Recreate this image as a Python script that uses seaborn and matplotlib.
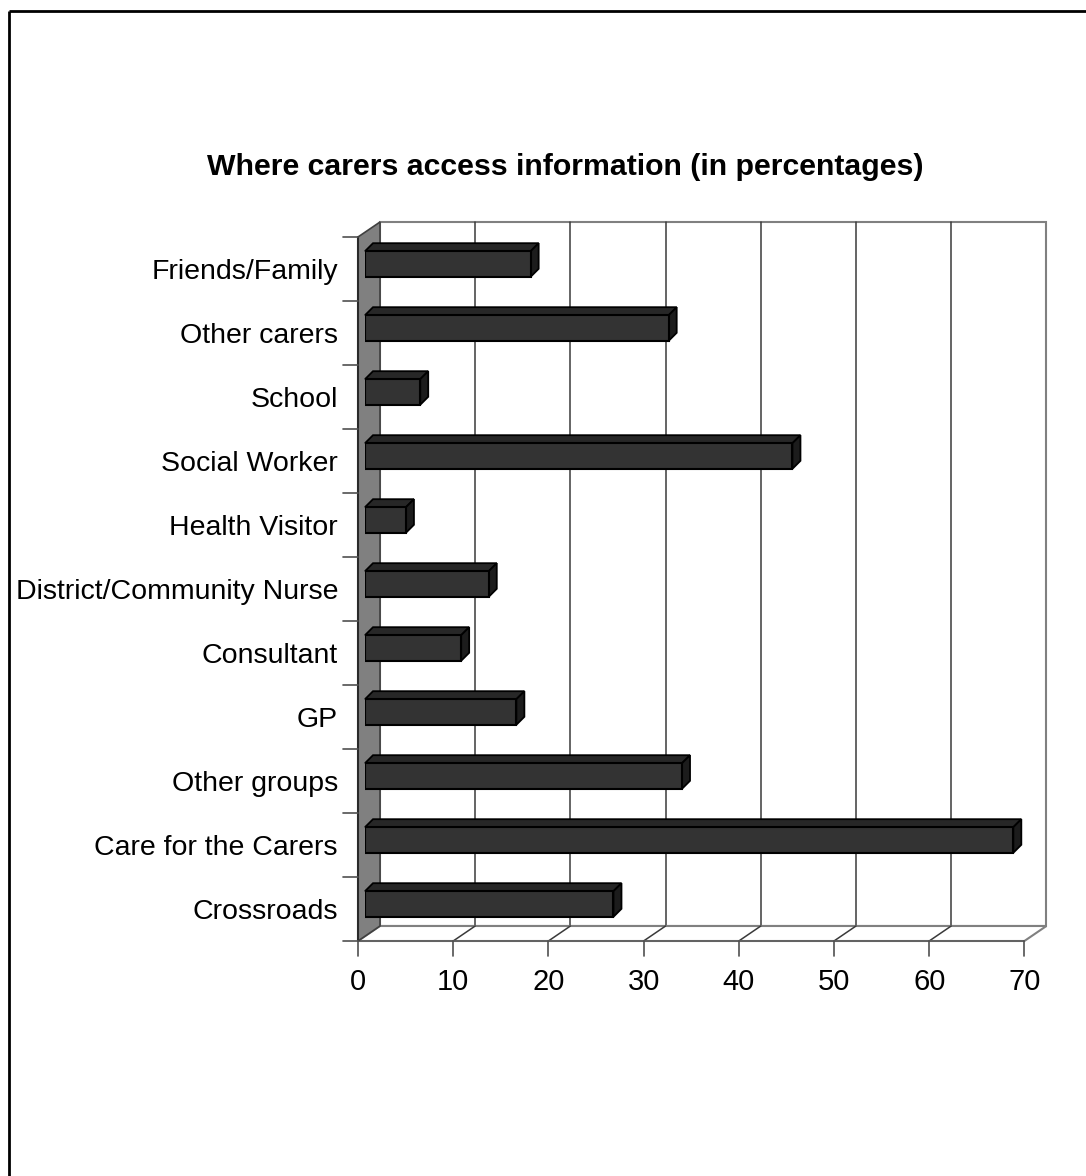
import numpy as np
import pandas as pd
import matplotlib
matplotlib.use("Agg")
import matplotlib.pyplot as plt
import seaborn as sns
from matplotlib.patches import Polygon

# ---------------- data ----------------
categories = ["Friends/Family", "Other carers", "School", "Social Worker",
              "Health Visitor", "District/Community Nurse", "Consultant", "GP",
              "Other groups", "Care for the Carers", "Crossroads"]
percentages = [17.4, 31.9, 5.8, 44.9, 4.3, 13.0, 10.1, 15.9, 33.3, 68.1, 26.1]
x_ticks = [0, 10, 20, 30, 40, 50, 60, 70]
title = "Where carers access information (in percentages)"

# ---------------- style ----------------
sns.set_theme(style="white")
plt.rcParams['font.family'] = ['Liberation Sans', 'DejaVu Sans']

W, H = 1086, 1176
fig = plt.figure(figsize=(W / 100, H / 100), dpi=100)
fig.patch.set_facecolor("white")

# background / decoration layer in pixel coordinates
bg = fig.add_axes([0, 0, 1, 1], zorder=0)
bg.set_xlim(0, W)
bg.set_ylim(H, 0)
bg.axis('off')

# axes = plane in which the bar fronts lie
plane_left, plane_right = 365, 365 + 70 * 9.52
plane_top, plane_bottom = 232, 936
ax = fig.add_axes([plane_left / W, 1 - plane_bottom / H,
                   (plane_right - plane_left) / W, (plane_bottom - plane_top) / H],
                  zorder=1)
ax.set_facecolor('none')

df = pd.DataFrame({"source": categories, "pct": percentages})
sns.barplot(data=df, x="pct", y="source", orient="h", color="#333333",
            saturation=1, width=0.4, edgecolor="black", linewidth=1.5, ax=ax)
ax.set_xlim(x_ticks[0], x_ticks[-1])
ax.set_ylim(len(categories) - 0.5, -0.5)
ax.axis('off')

n = len(categories)
y_top, y_bot = -0.5, n - 0.5
FRONT = (-7, 5)
BACK = (15, -10)
DEPTH = (8, -8)


def to_px(x, y, off=(0, 0)):
    d = ax.transData.transform((x, y))
    return (d[0] + off[0], H - d[1] + off[1])


def shift(p, off):
    return (p[0] + off[0], p[1] + off[1])


# back wall
bw = [to_px(0, y_top, BACK), to_px(70, y_top, BACK), to_px(70, y_bot, BACK), to_px(0, y_bot, BACK)]
bg.add_patch(Polygon(bw, closed=True, facecolor="white", edgecolor="#808080", lw=1.5, zorder=1))
for t in x_ticks[1:-1]:
    a = to_px(t, y_top, BACK)
    b = to_px(t, y_bot, BACK)
    bg.plot([a[0], b[0]], [a[1], b[1]], color="#3a3a3a", lw=1.1, zorder=2)

# floor
fl = [to_px(0, y_bot, FRONT), to_px(70, y_bot, FRONT), to_px(70, y_bot, BACK), to_px(0, y_bot, BACK)]
bg.add_patch(Polygon(fl, closed=True, facecolor="white", edgecolor="#808080", lw=1.5, zorder=2))
for t in x_ticks[1:-1]:
    a = to_px(t, y_bot, FRONT)
    b = to_px(t, y_bot, BACK)
    bg.plot([a[0], b[0]], [a[1], b[1]], color="#3a3a3a", lw=1.1, zorder=3)
a = to_px(0, y_bot, FRONT)
b = to_px(70, y_bot, FRONT)
bg.plot([a[0], b[0]], [a[1], b[1]], color="#606060", lw=1.3, zorder=3)

# left wall
lw_poly = [to_px(0, y_top, FRONT), to_px(0, y_top, BACK), to_px(0, y_bot, BACK), to_px(0, y_bot, FRONT)]
bg.add_patch(Polygon(lw_poly, closed=True, facecolor="#808080", edgecolor="#404040", lw=1.2, zorder=3))
a = to_px(0, y_top, FRONT)
b = to_px(0, y_bot, FRONT)
bg.plot([a[0], b[0]], [a[1], b[1]], color="#2a2a2a", lw=1.5, zorder=4)

# left category ticks
for k in range(n + 1):
    p = to_px(0, y_top + k, FRONT)
    bg.plot([p[0] - 15, p[0]], [p[1], p[1]], color="#505050", lw=1.2, zorder=4)

# category labels
for i, c in enumerate(categories):
    p = to_px(0, i, FRONT)
    bg.text(p[0] - 20, p[1] + 3, c, ha="right", va="center", fontsize=20.5, color="black")

# bottom ticks and labels
for t in x_ticks:
    p = to_px(t, y_bot, FRONT)
    bg.plot([p[0], p[0]], [p[1], p[1] + 15], color="#505050", lw=1.2, zorder=4)
    bg.text(p[0], p[1] + 41, f"{t}", ha="center", va="center", fontsize=21, color="black")

# 3D faces of the bars
for patch in ax.patches:
    x0, y0 = patch.get_x(), patch.get_y()
    w, h = patch.get_width(), patch.get_height()
    p1 = to_px(x0, y0)
    p2 = to_px(x0, y0 + h)
    top_y = min(p1[1], p2[1])
    bot_y = max(p1[1], p2[1])
    xl = to_px(x0, y0)[0]
    xr = to_px(x0 + w, y0)[0]
    TL, TR, BR = (xl, top_y), (xr, top_y), (xr, bot_y)
    bg.add_patch(Polygon([TL, TR, shift(TR, DEPTH), shift(TL, DEPTH)], closed=True,
                         facecolor="#272727", edgecolor="black", lw=1.3, zorder=6))
    bg.add_patch(Polygon([TR, BR, shift(BR, DEPTH), shift(TR, DEPTH)], closed=True,
                         facecolor="#1c1c1c", edgecolor="black", lw=1.3, zorder=6))

# outer frame (only top and left edges visible)
bg.plot([9, W], [11, 11], color="black", lw=2, zorder=10, solid_capstyle="butt")
bg.plot([9, 9], [11, H], color="black", lw=2, zorder=10, solid_capstyle="butt")

# title
fig.text(565 / W, 1 - 167 / H, title, ha="center", va="center",
         fontsize=21.8, fontweight="bold", color="black")

fig.savefig("out.png", dpi=100, facecolor="white")
